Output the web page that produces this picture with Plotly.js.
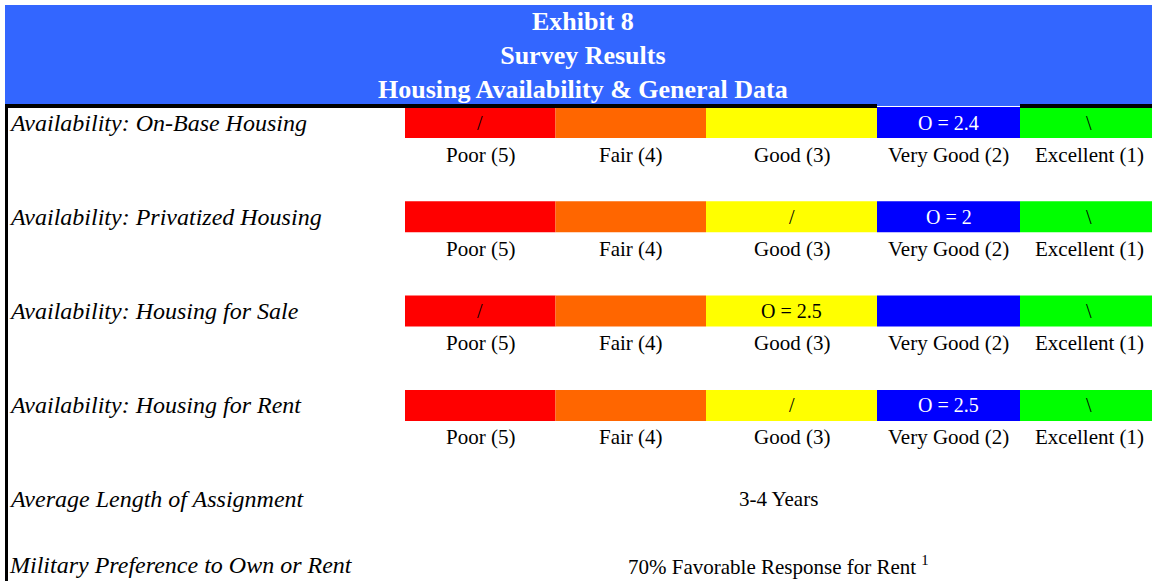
<!DOCTYPE html>
<html>
<head>
<meta charset="utf-8">
<script src="https://cdn.plot.ly/plotly-3.0.1.min.js"></script>
<style>html,body{margin:0;padding:0;background:#fff;}#chart{width:1152px;height:581px;}</style>
</head>
<body>
<div id="chart"></div>
<script>
// ---- data ----
const titleLines = ["Exhibit 8", "Survey Results", "Housing Availability & General Data"];
const rowLabels = ["Availability: On-Base Housing", "Availability: Privatized Housing", "Availability: Housing for Sale", "Availability: Housing for Rent"];
const ratingLabels = ["Poor (5)", "Fair (4)", "Good (3)", "Very Good (2)", "Excellent (1)"];
const ratingColors = ["#FF0000", "#FF6600", "#FFFF00", "#0000FF", "#00FF00"];
const meanScores = [2.4, 2, 2.5, 2.5];
const meanCell = [3, 3, 2, 3];   // rating cell holding the "O = mean" marker
const lowCell = [0, 2, 0, 2];    // rating cell holding "/"
const highCell = [4, 4, 4, 4];   // rating cell holding "\"
const generalLabels = ["Average Length of Assignment", "Military Preference to Own or Rent"];
const generalValues = ["3-4 Years", "70% Favorable Response for Rent <sup>1</sup>"];

// ---- layout constants ----
const W = 1152, H = 581;
const colEdges = [405, 555.5, 706, 877, 1020, 1158];
const rowTop0 = 107, rowStep = 94.3, barH = 31;
const generalY = [499, 565];
const serif = "Liberation Serif";

const rowCenter = i => rowTop0 + barH / 2 + i * rowStep;
const colCenter = j => (colEdges[j] + colEdges[j + 1]) / 2;

const traces = ratingLabels.map((lab, j) => ({
  type: "bar",
  orientation: "h",
  name: lab,
  y: rowLabels.map((_, i) => rowCenter(i)),
  x: rowLabels.map(() => colEdges[j + 1] - colEdges[j]),
  base: rowLabels.map(() => colEdges[j]),
  width: barH,
  marker: {color: ratingColors[j], line: {width: 0}},
  hoverinfo: "skip",
  showlegend: false
}));

const annotations = [];
annotations.push({x: 583, y: 55, text: "<b>" + titleLines.join("<br>") + "</b>", showarrow: false,
  xanchor: "center", yanchor: "middle", align: "center",
  font: {family: serif, size: 26, color: "#FFFFFF"}});
rowLabels.forEach((lab, i) => {
  annotations.push({x: 7, y: rowCenter(i), text: "<i>" + lab + "</i>", showarrow: false,
    xanchor: "left", yanchor: "middle", font: {family: serif, size: 24, color: "#000"}});
  ratingLabels.forEach((r, j) => {
    annotations.push({x: colCenter(j), y: rowCenter(i) + 32, text: r, showarrow: false,
      xanchor: "center", yanchor: "middle", font: {family: serif, size: 21, color: "#000"}});
  });
  const mc = meanCell[i];
  annotations.push({x: colCenter(mc), y: rowCenter(i), text: "O = " + meanScores[i], showarrow: false,
    xanchor: "center", yanchor: "middle",
    font: {family: serif, size: 20, color: ratingColors[mc] === "#0000FF" ? "#FFFFFF" : "#000000"}});
  if (lowCell[i] !== mc) annotations.push({x: colCenter(lowCell[i]), y: rowCenter(i), text: "/", showarrow: false,
    xanchor: "center", yanchor: "middle", font: {family: serif, size: 20, color: "#000"}});
  if (highCell[i] !== mc) annotations.push({x: colCenter(highCell[i]), y: rowCenter(i), text: "\\", showarrow: false,
    xanchor: "center", yanchor: "middle", font: {family: serif, size: 20, color: "#000"}});
});
generalLabels.forEach((lab, k) => {
  annotations.push({x: 7, y: generalY[k], text: "<i>" + lab + "</i>", showarrow: false,
    xanchor: "left", yanchor: "middle", font: {family: serif, size: 24, color: "#000"}});
  annotations.push({x: 778, y: generalY[k], text: generalValues[k], showarrow: false,
    xanchor: "center", yanchor: "middle", font: {family: serif, size: 21, color: "#000"}});
});

const shapes = [
  {type: "rect", xref: "x", yref: "y", x0: 5, x1: W, y0: 5, y1: 106, fillcolor: "#3366FF", line: {width: 0}, layer: "below"},
  {type: "rect", xref: "x", yref: "y", x0: 5, x1: colEdges[3], y0: 104, y1: 108, fillcolor: "#000", line: {width: 0}, layer: "above"},
  {type: "rect", xref: "x", yref: "y", x0: colEdges[4], x1: W, y0: 104, y1: 108, fillcolor: "#000", line: {width: 0}, layer: "above"},
  {type: "rect", xref: "x", yref: "y", x0: 5, x1: 8, y0: 104, y1: H, fillcolor: "#000", line: {width: 0}, layer: "above"}
];

const layout = {
  width: W, height: H,
  margin: {l: 0, r: 0, t: 0, b: 0},
  paper_bgcolor: "#fff", plot_bgcolor: "#fff",
  barmode: "overlay",
  xaxis: {range: [0, W], visible: false, fixedrange: true},
  yaxis: {range: [H, 0], visible: false, fixedrange: true},
  shapes: shapes,
  annotations: annotations,
  showlegend: false
};

Plotly.newPlot("chart", traces, layout, {displayModeBar: false, staticPlot: true});
</script>
</body>
</html>
